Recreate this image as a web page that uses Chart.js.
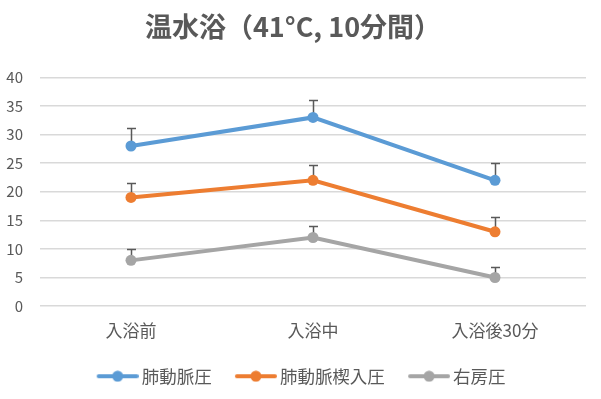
<!DOCTYPE html>
<html lang="ja">
<head>
    <meta charset="UTF-8">
    <title>温水浴（41°C, 10分間）</title>
    <script src="https://cdn.jsdelivr.net/npm/chart.js"></script>
    <style>
        html, body { margin: 0; padding: 0; background: #fff; }
        #wrap { width: 601px; height: 399px; }
    </style>
</head>
<body>
    <div id="wrap"><canvas id="chart"></canvas></div>

    <script>
        const categories = ["入浴前", "入浴中", "入浴後30分"];
        const seriesNames = ["肺動脈圧", "肺動脈楔入圧", "右房圧"];
        const pap = [28, 33, 22];
        const papErr = [3.1, 3.1, 3.1];
        const pcwp = [19, 22, 13];
        const pcwpErr = [2.6, 2.6, 2.6];
        const rap = [8, 12, 5];
        const rapErr = [1.9, 2, 1.9];
        const yTicks = [0, 5, 10, 15, 20, 25, 30, 35, 40];

        const colors = ["#5b9bd5", "#ed7d31", "#a5a5a5"];
        const font = "'Noto Sans CJK JP', 'Noto Sans', sans-serif";

        // legend marker: short line with a dot in the middle (blank strip on the left = gap to previous item)
        function legendIcon(color) {
            const c = document.createElement("canvas");
            c.width = 58; c.height = 12;
            const g = c.getContext("2d");
            g.strokeStyle = color;
            g.lineWidth = 4;
            g.lineCap = "round";
            g.beginPath(); g.moveTo(18, 6); g.lineTo(56, 6); g.stroke();
            g.fillStyle = color;
            g.beginPath(); g.arc(37, 6, 5.5, 0, Math.PI * 2); g.fill();
            return c;
        }

        // upper error bars (plus only), drawn under the lines
        const errorBars = {
            id: "errorBars",
            beforeDatasetsDraw(chart) {
                const ctx = chart.ctx;
                const ys = chart.scales.y;
                ctx.save();
                ctx.strokeStyle = "#595959";
                ctx.lineWidth = 1.5;
                chart.data.datasets.forEach((ds, i) => {
                    const meta = chart.getDatasetMeta(i);
                    meta.data.forEach((pt, j) => {
                        const top = Math.round(ys.getPixelForValue(ds.data[j] + ds.errors[j])) + 0.5;
                        const x = Math.round(pt.x) + 0.5;
                        ctx.beginPath();
                        ctx.moveTo(x, pt.y);
                        ctx.lineTo(x, top);
                        ctx.moveTo(x - 4.5, top);
                        ctx.lineTo(x + 4.5, top);
                        ctx.stroke();
                    });
                });
                ctx.restore();
            }
        };

        // legend sits a little right of the chart centre in the reference
        const legendShift = {
            id: "legendShift",
            afterLayout(chart) {
                chart.legend.left += 3;
                chart.legend.right += 3;
            }
        };

        const values = [pap, pcwp, rap];
        const errs = [papErr, pcwpErr, rapErr];

        new Chart(document.getElementById("chart"), {
            type: "line",
            data: {
                labels: categories,
                datasets: seriesNames.map((name, i) => ({
                    label: name,
                    data: values[i],
                    errors: errs[i],
                    borderColor: colors[i],
                    backgroundColor: colors[i],
                    borderWidth: 4,
                    pointStyle: "circle",
                    pointRadius: 5.5,
                    pointHoverRadius: 5.5,
                    pointBorderWidth: 0,
                    tension: 0
                }))
            },
            options: {
                responsive: true,
                maintainAspectRatio: false,
                animation: false,
                layout: { padding: { left: 0, right: 15, top: 8, bottom: 4 } },
                plugins: {
                    title: {
                        display: true,
                        text: "温水浴（41°C, 10分間）",
                        color: "#595959",
                        font: { family: font, size: 27, weight: "bold" },
                        padding: { top: 3, bottom: 34 }
                    },
                    legend: {
                        position: "bottom",
                        labels: {
                            usePointStyle: true,
                            pointStyleWidth: 46.5,
                            color: "#595959",
                            font: { family: font, size: 17.5 },
                            padding: 13,
                            generateLabels(chart) {
                                return chart.data.datasets.map((ds, i) => ({
                                    text: ds.label,
                                    pointStyle: legendIcon(colors[i]),
                                    fillStyle: colors[i],
                                    strokeStyle: colors[i],
                                    lineWidth: 0,
                                    fontColor: "#595959",
                                    datasetIndex: i
                                }));
                            }
                        }
                    },
                    tooltip: { enabled: false }
                },
                scales: {
                    x: {
                        offset: true,
                        grid: { display: false, drawTicks: false },
                        border: { display: false },
                        ticks: { color: "#595959", font: { family: font, size: 17 }, padding: 14 }
                    },
                    y: {
                        min: 0,
                        max: 40,
                        afterBuildTicks(s) { s.ticks = yTicks.map(v => ({ value: v })); },
                        afterFit(s) { s.width = 40; },
                        grid: { color: "#d9d9d9", lineWidth: 1.5, drawTicks: false },
                        border: { display: false },
                        ticks: { color: "#595959", font: { family: font, size: 15 }, padding: 17 }
                    }
                }
            },
            plugins: [errorBars, legendShift]
        });
    </script>
</body>
</html>
